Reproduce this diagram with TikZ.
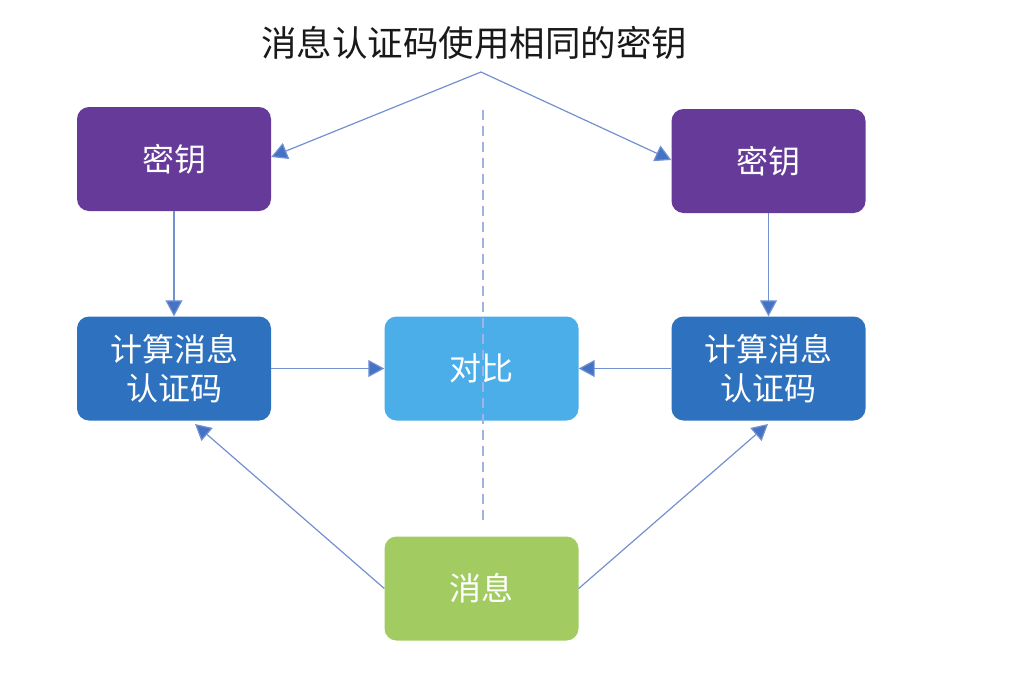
\documentclass[tikz,border=0pt]{standalone}
\usepackage{fontspec}
\newfontfamily\cjk{Noto Sans CJK SC}
\usetikzlibrary{arrows.meta}
\definecolor{keyc}{HTML}{663A98}
\definecolor{macc}{HTML}{2E72BF}
\definecolor{cmpc}{HTML}{4BAEE8}
\definecolor{msgc}{HTML}{A2CC62}
\definecolor{linec}{HTML}{7390D0}
\definecolor{tipc}{HTML}{4472C4}
\definecolor{dashc}{HTML}{9FB4E2}
\tikzset{
  box/.style={rounded corners=12pt, minimum width=194pt, minimum height=104pt,
    inner sep=0pt, text=white, font=\cjk\fontsize{32}{39}\selectfont, align=center},
  conn/.style={draw=linec, line width=1.2pt, -{Triangle[length=16pt,width=17pt,fill=tipc]}},
}
\begin{document}
\begin{tikzpicture}[x=1pt,y=-1pt]
\useasboundingbox (0,0) rectangle (1015,675);
\node[box, fill=keyc] (k1) at (174,159) {密钥};
\node[box, fill=keyc] (k2) at (768.5,161) {密钥};
\node[box, fill=macc] (m1) at (174,368.5) {计算消息\\认证码};
\node[box, fill=cmpc] (c) at (481.5,368.5) {对比};
\node[box, fill=macc] (m2) at (768.5,368.5) {计算消息\\认证码};
\node[box, fill=msgc] (msg) at (481.5,588.5) {消息};
\node[font=\cjk\fontsize{35.5}{40}\selectfont, text=black!90, inner sep=0pt] (t) at (474,43) {消息认证码使用相同的密钥};
\coordinate (apex) at (481,72);
\draw[conn] (apex) -- (k1.east |- 0,157);
\draw[conn] (apex) -- (k2.west |- 0,160);
\draw[conn] (k1.south) -- (m1.north);
\draw[conn] (k2.south) -- (m2.north);
\draw[conn] (m1.east) -- (c.west);
\draw[conn] (m2.west) -- (c.east);
\draw[conn] (msg.west) -- (195,424);
\draw[conn] (msg.east) -- (768,424);
\coordinate (d1) at (483,110);
\coordinate (d2) at (483,525);
\draw[dashc, line width=1.3pt, dash pattern=on 10pt off 6pt] (d1) -- (d2);
\end{tikzpicture}
\end{document}
